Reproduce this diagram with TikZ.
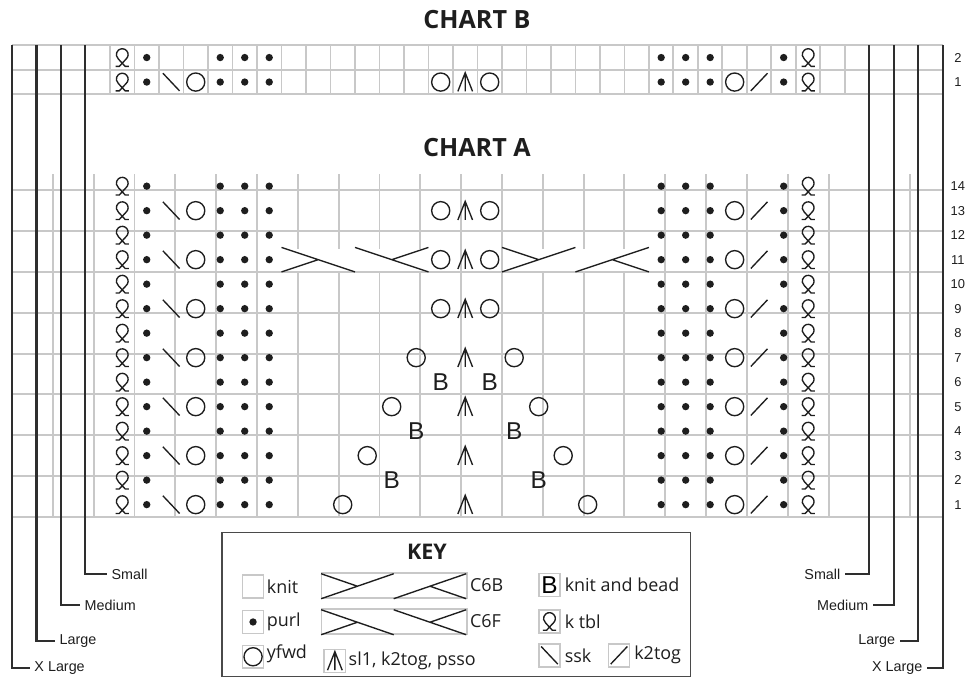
\documentclass[tikz,border=0pt]{standalone}
\usepackage{fontspec}
\setmainfont{Open Sans}
\newfontfamily\arialfont{Liberation Sans}
\usetikzlibrary{positioning}
\definecolor{gridgrey}{HTML}{C8C8C8}
\definecolor{ink}{HTML}{1E1E1E}
\definecolor{leadgrey}{HTML}{2E2E2E}
\definecolor{framegrey}{HTML}{4A4A4A}

% stitch symbols, each placed at the centre of a cell
\newcommand{\purlst}[1]{\fill[ink] #1 circle (0.15);}
\newcommand{\yfwdst}[1]{\draw[sym] #1 circle (0.37);}
\newcommand{\sskst}[1]{\draw[sym, shift={#1}] (-0.34,0.36) -- (0.34,-0.36);}
\newcommand{\ktogst}[1]{\draw[sym, shift={#1}] (-0.34,-0.36) -- (0.34,0.36);}
\newcommand{\decst}[1]{\draw[sym, shift={#1}] (-0.3,-0.38) -- (0,0.38) -- (0.3,-0.38) (0,0.38) -- (0,-0.38);}
\newcommand{\tblst}[1]{\draw[sym, shift={#1}] (-0.27,-0.36) -- (-0.12,-0.36) -- (0.154,-0.064)
    arc[start angle=-50, end angle=230, radius=0.24] -- (0.12,-0.36) -- (0.27,-0.36);}
% six stitch cables, lower left corner given
\newcommand{\cablefront}[1]{%
  \begin{scope}[shift={#1}]
    \fill[white] (0.05,0.05) rectangle (5.95,0.95);
    \draw[sym] (0,1) -- (3,0) (0,0) -- (1.5,0.5) (3,1) -- (6,0) (6,1) -- (4.5,0.5);
  \end{scope}}
\newcommand{\cableback}[1]{%
  \begin{scope}[shift={#1}]
    \fill[white] (0.05,0.05) rectangle (5.95,0.95);
    \draw[sym] (0,0) -- (3,1) (0,1) -- (1.5,0.5) (3,0) -- (6,1) (6,0) -- (4.5,0.5);
  \end{scope}}
% fixed side columns of every row
\newcommand{\edgerow}[1]{%
  \foreach \c in {4,32} {\tblst{(\c+0.5,#1)}}
  \foreach \c in {5,8,9,10,26,27,28,31} {\purlst{(\c+0.5,#1)}}}
\newcommand{\lacerow}[1]{\sskst{(6.5,#1)} \yfwdst{(7.5,#1)} \yfwdst{(29.5,#1)} \ktogst{(30.5,#1)}}

\begin{document}
\begin{tikzpicture}[x=0.6cm, y=0.6cm,
    gridline/.style={gridgrey, line width=1.3pt},
    sizeline/.style={leadgrey, line width=1.4pt},
    sym/.style={ink, line width=0.95pt},
    rownum/.style={font=\arialfont\fontsize{9}{11}\selectfont, text=ink},
    sizelabel/.style={font=\arialfont\fontsize{10}{12}\selectfont, text=ink, inner sep=3pt},
    title/.style={font=\fontsize{15}{18}\selectfont\bfseries, text=ink},
    charttitle/.style={font=\fontsize{17.5}{20}\selectfont\bfseries, text=ink},
    bead/.style={font=\arialfont\fontsize{17}{20}\selectfont, text=ink, inner sep=0pt},
    keybox/.style={draw=gridgrey, line width=1.1pt, minimum width=0.52cm, minimum height=0.56cm, inner sep=0pt},
    keytext/.style={font=\fontsize{12.5}{15}\selectfont, text=ink, inner sep=1pt}
]
    \useasboundingbox (-0.49,-6.57) rectangle (39.27,21.1);

    % === GRIDS ===
    \draw[gridline] (0,0) grid (38,14);
    \foreach \c in {0,...,38} \draw[gridline] (\c,17.25) -- (\c,19.25);
    \foreach \r in {0,1,2} \draw[gridline] (0,17.25+\r) -- (38,17.25+\r);

    % Titles
    \node[charttitle] (titleB) at (18.98,20.29) {CHART B};
    \node[charttitle] (titleA) at (18.98,15.06) {CHART A};

    % Row numbers
    \foreach \r in {1,...,14} \node[rownum] (rowA\r) at (38.61,\r-0.5) {\r};
    \node[rownum] (rowB1) at (38.61,17.75) {1};
    \node[rownum] (rowB2) at (38.61,18.75) {2};

    % === CHART B ===
    \edgerow{17.75}
    \edgerow{18.75}
    \lacerow{17.75}
    \yfwdst{(17.5,17.75)} \decst{(18.5,17.75)} \yfwdst{(19.5,17.75)}

    % === CHART A ===
    \foreach \r in {1,...,14} {\edgerow{\r-0.5}}
    \foreach \r in {1,3,...,13} {\lacerow{\r-0.5}}

    % Cables, row 11
    \cablefront{(11,10)}
    \cableback{(20,10)}

    % Centre decreases
    \foreach \r in {9,11,13} {\yfwdst{(17.5,\r-0.5)} \decst{(18.5,\r-0.5)} \yfwdst{(19.5,\r-0.5)}}
    \foreach \r/\d in {1/5,3/4,5/3,7/2} {\yfwdst{(18.5-\d,\r-0.5)} \decst{(18.5,\r-0.5)} \yfwdst{(18.5+\d,\r-0.5)}}

    % Beads
    \foreach \r/\d in {2/3,4/2,6/1} {
        \node[bead] (beadL\r) at (18.5-\d,\r-0.5) {B};
        \node[bead] (beadR\r) at (18.5+\d,\r-0.5) {B};
    }

    % === SIZE LINES ===
    \foreach \i/\xa/\xb/\ya/\la/\lb/\lab in {xl/0/38/-6.16/0.73/37.35/X Large, lg/1/37/-5.08/1.76/36.24/Large,
            md/2/36/-3.6/2.78/35.14/Medium, sm/3/35/-2.33/3.88/34.0/Small} {
        \coordinate (\i-topL) at (\xa,19.25);
        \coordinate (\i-topR) at (\xb,19.25);
        \node[sizelabel, anchor=west] (\i-labL) at (\la,\ya) {\lab};
        \node[sizelabel, anchor=east] (\i-labR) at (\lb,\ya) {\lab};
        \draw[sizeline] (\i-topL) |- (\i-labL.west);
        \draw[sizeline] (\i-topR) |- (\i-labR.east);
    }

    % === KEY ===
    \draw[framegrey, line width=0.8pt] (8.57,-0.65) rectangle (27.71,-6.53);
    \node[title] (keyTitle) at (16.94,-1.43) {KEY};

    \node[keybox] (kKnit) at (9.84,-2.84) {};
    \node[keybox] (kPurl) at (9.84,-4.29) {};
    \node[keybox] (kYfwd) at (9.84,-5.71) {};
    \node[keybox, minimum width=3.55cm, minimum height=0.61cm] (kC6B) at (15.61,-2.8) {};
    \node[keybox, minimum width=3.55cm, minimum height=0.61cm] (kC6F) at (15.61,-4.27) {};
    \node[keybox] (kDec) at (13.18,-5.88) {};
    \node[keybox, font=\arialfont\fontsize{17}{20}\selectfont] (kBead) at (21.94,-2.78) {B};
    \node[keybox] (kTbl) at (21.94,-4.27) {};
    \node[keybox] (kSsk) at (21.94,-5.65) {};
    \node[keybox] (kKtog) at (24.78,-5.65) {};

    \purlst{(kPurl.center)}
    \yfwdst{(kYfwd.center)}
    \decst{(kDec.center)}
    \tblst{(kTbl.center)}
    \sskst{(kSsk.center)}
    \ktogst{(kKtog.center)}
    \begin{scope}[shift={(kC6B.south west)}, xscale=0.987, yscale=1.02]
        \cableback{(0,0)}
    \end{scope}
    \begin{scope}[shift={(kC6F.south west)}, xscale=0.987, yscale=1.02]
        \cablefront{(0,0)}
    \end{scope}

    % Key labels
    \node[keytext, right=0.5pt of kKnit] (tKnit) {knit};
    \node[keytext, right=0.5pt of kPurl] (tPurl) {purl};
    \node[keytext, right=0.5pt of kYfwd, yshift=2pt] (tYfwd) {yfwd};
    \node[keytext, right=0.5pt of kC6B] (tC6B) {C6B};
    \node[keytext, right=0.5pt of kC6F] (tC6F) {C6F};
    \node[keytext, right=0.5pt of kDec] (tDec) {sl1, k2tog, psso};
    \node[keytext, right=1.5pt of kBead] (tBead) {knit and bead};
    \node[keytext, right=1.5pt of kTbl] (tTbl) {k tbl};
    \node[keytext, right=1.5pt of kSsk] (tSsk) {ssk};
    \node[keytext, right=1.5pt of kKtog] (tKtog) {k2tog};

\end{tikzpicture}
\end{document}
